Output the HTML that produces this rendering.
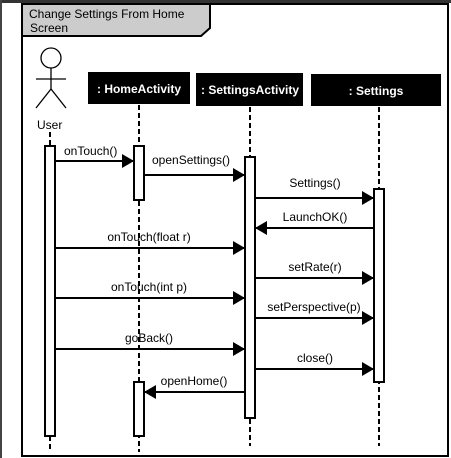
<!DOCTYPE html>
<html><head><meta charset="utf-8"><style>
html,body{margin:0;padding:0;background:#fff;width:451px;height:458px;overflow:hidden}
svg{display:block}
text{font-family:"Liberation Sans",Arial,sans-serif;font-size:12px;fill:#000}
.h{fill:#fff;font-weight:bold;font-size:12px}
</style></head><body>
<svg width="451" height="458" viewBox="0 0 451 458" xmlns="http://www.w3.org/2000/svg">
<defs><marker id="a" markerWidth="12" markerHeight="14" refX="12" refY="7" orient="auto" markerUnits="userSpaceOnUse"><path d="M0,0 L12,7 L0,14 Z" fill="#000"/></marker></defs>
<rect x="0" y="0" width="451" height="3" fill="#333"/>
<rect x="0" y="0" width="2" height="458" fill="#444"/>
<rect x="22" y="4" width="426" height="452" fill="#fff" stroke="#000" stroke-width="2"/>
<path d="M22,4 H210 V28 L201,36 H22 Z" fill="#ccc" stroke="#000" stroke-width="2"/>
<text x="29" y="18" font-size="13.5">Change Settings From Home</text>
<text x="30" y="32" font-size="13.5">Screen</text>
<g stroke="#000" stroke-width="1.3" fill="none">
<circle cx="51" cy="58" r="10"/>
<line x1="51" y1="68" x2="51" y2="89"/>
<line x1="36" y1="79" x2="66" y2="79"/>
<line x1="51" y1="89" x2="36" y2="108"/>
<line x1="51" y1="89" x2="66" y2="108"/>
</g>
<text x="37" y="129" font-size="13">User</text>
<rect x="88" y="72" width="102" height="32" fill="#000"/>
<text x="139" y="93" class="h" text-anchor="middle">: HomeActivity</text>
<rect x="196" y="73" width="107" height="33" fill="#000"/>
<text x="250" y="94" class="h" text-anchor="middle">: SettingsActivity</text>
<rect x="311" y="74" width="130" height="32" fill="#000"/>
<text x="376" y="95" class="h" text-anchor="middle">: Settings</text>
<g stroke="#000" stroke-width="2" stroke-dasharray="5,3">
<line x1="50" y1="132" x2="50" y2="452"/>
<line x1="139" y1="105" x2="139" y2="452"/>
<line x1="250" y1="107" x2="250" y2="446"/>
<line x1="379" y1="107" x2="379" y2="446"/>
</g>
<g fill="#fff" stroke="#000" stroke-width="2">
<rect x="45" y="146" width="10" height="290"/>
<rect x="134" y="146" width="10" height="54"/>
<rect x="134" y="382" width="10" height="54"/>
<rect x="245" y="157" width="10" height="261"/>
<rect x="374" y="189" width="10" height="193"/>
</g>
<g stroke="#000" stroke-width="2" marker-end="url(#a)">
<line x1="55" y1="161" x2="134" y2="161"/>
<line x1="144" y1="175" x2="245" y2="175"/>
<line x1="255" y1="198" x2="374" y2="198"/>
<line x1="374" y1="228" x2="255" y2="228"/>
<line x1="55" y1="248" x2="245" y2="248"/>
<line x1="255" y1="278" x2="374" y2="278"/>
<line x1="55" y1="298" x2="245" y2="298"/>
<line x1="255" y1="318" x2="374" y2="318"/>
<line x1="55" y1="349" x2="245" y2="349"/>
<line x1="255" y1="369" x2="374" y2="369"/>
<line x1="245" y1="392" x2="144" y2="392"/>
</g>
<text x="64" y="155">onTouch()</text>
<text x="152" y="164">openSettings()</text>
<text x="315" y="187" text-anchor="middle">Settings()</text>
<text x="315" y="221" text-anchor="middle">LaunchOK()</text>
<text x="149" y="241" text-anchor="middle">onTouch(float r)</text>
<text x="315" y="271" text-anchor="middle">setRate(r)</text>
<text x="149" y="291" text-anchor="middle">onTouch(int p)</text>
<text x="314" y="311" text-anchor="middle">setPerspective(p)</text>
<text x="149" y="342" text-anchor="middle">goBack()</text>
<text x="315" y="362" text-anchor="middle">close()</text>
<text x="194" y="385" text-anchor="middle">openHome()</text>
</svg>
</body></html>
